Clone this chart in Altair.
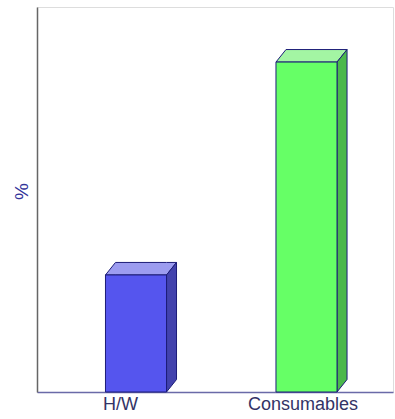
import altair as alt
import pandas as pd

categories = ["H/W", "Consumables"]
values = [30.4, 85.7]
front_colors = ["#5555ee", "#66ff66"]
top_colors = ["#9c9cf0", "#a3f5a3"]
side_colors = ["#4242ad", "#4bb84b"]

HALF = 0.179   # half bar width (x units)
DX = 0.0587    # depth in x units
DY = 3.25      # depth in y units

front_rows, face_rows = [], []
for i, (c, v) in enumerate(zip(categories, values)):
    L, R = i - HALF, i + HALF
    front_rows.append({"cat": c, "face": f"{c}-front", "x": L, "x2": R, "y": 0, "y2": v})
    for x, y, y2 in [(L, v, v), (L + DX, v, v + DY), (R, v, v + DY), (R + DX, v + DY, v + DY)]:
        face_rows.append({"face": f"{c}-top", "x": x, "y": y, "y2": y2})
    for x, y, y2 in [(R, 0, v), (R + DX, DY, v + DY)]:
        face_rows.append({"face": f"{c}-side", "x": x, "y": y, "y2": y2})

front_df = pd.DataFrame(front_rows)
face_df = pd.DataFrame(face_rows)

dom = [f"{c}-front" for c in categories] + [f"{c}-top" for c in categories] + [f"{c}-side" for c in categories]
rng = front_colors + top_colors + side_colors
color_scale = alt.Scale(domain=dom, range=rng)

label_expr = "datum.value == 0 ? '" + categories[0] + "' : datum.value == 1 ? '" + categories[1] + "' : ''"

xscale = alt.Scale(domain=[-0.5806, 1.5073], nice=False, zero=False)
yscale = alt.Scale(domain=[0, 100], nice=False)

xaxis = alt.Axis(
    values=[0, 1], labelExpr=label_expr, title=None, ticks=False, grid=False,
    domainColor="#6a6aa8", domainWidth=1.5, labelColor="#333366",
    labelFontSize=18, labelFont="Liberation Sans", labelPadding=3,
    labelOffset={"condition": {"test": "datum.value == 0", "value": -16}, "value": -4},
)
yaxis = alt.Axis(
    title="%", ticks=False, labels=False, grid=False,
    domainColor="#666666", domainWidth=1.5, titleColor="#333399",
    titleFontSize=19, titleFont="Liberation Sans", titleFontWeight="normal",
    titlePadding=6, titleY=184,
)

front = alt.Chart(front_df).mark_rect(stroke="#1c1c78", strokeWidth=1).encode(
    x=alt.X("x:Q", scale=xscale, axis=xaxis),
    x2="x2:Q",
    y=alt.Y("y:Q", scale=yscale, axis=yaxis),
    y2="y2:Q",
    color=alt.Color("face:N", scale=color_scale, legend=None),
)

faces = alt.Chart(face_df).mark_area(stroke="#1c1c78", strokeWidth=1, opacity=1).encode(
    x=alt.X("x:Q", scale=xscale),
    y=alt.Y("y:Q", scale=yscale),
    y2="y2:Q",
    color=alt.Color("face:N", scale=color_scale, legend=None),
    detail="face:N",
)

chart = alt.layer(faces, front).properties(
    width=356, height=385,
    autosize=alt.AutoSizeParams(type="none"),
    padding={"left": 37, "top": 7, "right": 2, "bottom": 27},
).configure_view(stroke=None).configure(background="white")

chart.save("out.html", embed_options={"renderer": "svg", "actions": False})
